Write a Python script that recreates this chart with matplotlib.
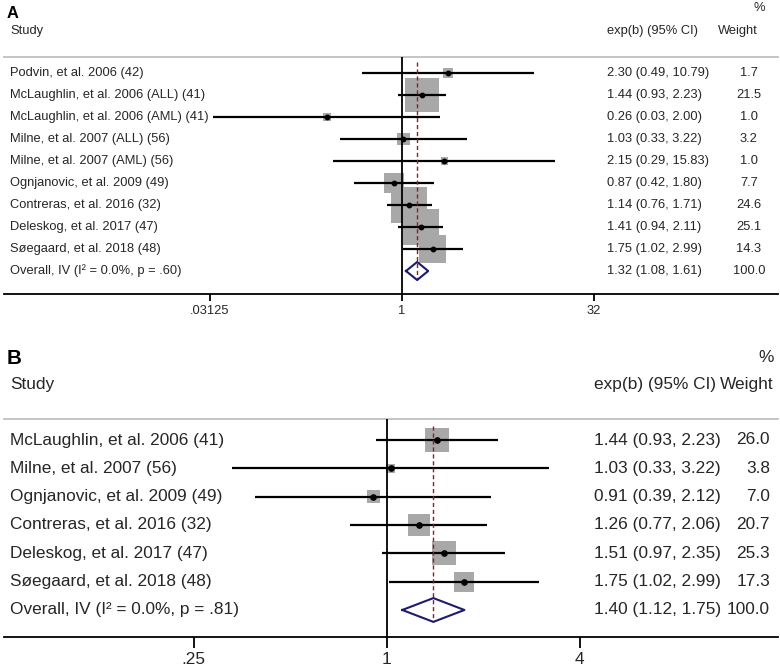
import numpy as np
import matplotlib.pyplot as plt

plt.rcParams['font.family'] = ['Liberation Sans', 'DejaVu Sans']

# ---- panel A data
studies_a = ["Podvin, et al. 2006 (42)", "McLaughlin, et al. 2006 (ALL) (41)",
             "McLaughlin, et al. 2006 (AML) (41)", "Milne, et al. 2007 (ALL) (56)",
             "Milne, et al. 2007 (AML) (56)", "Ognjanovic, et al. 2009 (49)",
             "Contreras, et al. 2016 (32)", "Deleskog, et al. 2017 (47)",
             "Søegaard, et al. 2018 (48)"]
est_a = [2.30, 1.44, 0.26, 1.03, 2.15, 0.87, 1.14, 1.41, 1.75]
lo_a = [0.49, 0.93, 0.033, 0.33, 0.29, 0.42, 0.76, 0.94, 1.02]
hi_a = [10.79, 2.23, 2.00, 3.22, 15.83, 1.80, 1.71, 2.11, 2.99]
wt_a = [1.7, 21.5, 1.0, 3.2, 1.0, 7.7, 24.6, 25.1, 14.3]
overall_a = [1.32, 1.08, 1.61]
overall_label_a = "Overall, IV (I² = 0.0%, p = .60)"
ticks_a = [0.03125, 1, 32]
ticklabels_a = [".03125", "1", "32"]

# ---- panel B data
studies_b = ["McLaughlin, et al. 2006 (41)", "Milne, et al. 2007 (56)",
             "Ognjanovic, et al. 2009 (49)", "Contreras, et al. 2016 (32)",
             "Deleskog, et al. 2017 (47)", "Søegaard, et al. 2018 (48)"]
est_b = [1.44, 1.03, 0.91, 1.26, 1.51, 1.75]
lo_b = [0.93, 0.33, 0.39, 0.77, 0.97, 1.02]
hi_b = [2.23, 3.22, 2.12, 2.06, 2.35, 2.99]
wt_b = [26.0, 3.8, 7.0, 20.7, 25.3, 17.3]
overall_b = [1.40, 1.12, 1.75]
overall_label_b = "Overall, IV (I² = 0.0%, p = .81)"
ticks_b = [0.25, 1, 4]
ticklabels_b = [".25", "1", "4"]

W, H = 780, 670
fig = plt.figure(figsize=(W / 100, H / 100), dpi=100)
TXT = '#262626'
AX_L, AX_R = 4, 778


def forest(top, bottom, one_px, px_unit, row0, row_sp, studies, est, lo, hi, wt,
           overall, overall_label, ticks, ticklabels, fs, sq_k, letter, hdr,
           ci_x, wt_x, wt_ha, tick_len, diamond_h, dot_ms):
    ax = fig.add_axes([AX_L / W, 1 - bottom / H, (AX_R - AX_L) / W, (bottom - top) / H])
    ax.set_xscale('log', base=2)
    ax.set_xlim(2 ** ((AX_L - one_px) / px_unit), 2 ** ((AX_R - one_px) / px_unit))
    n = len(studies)
    ax.set_ylim((bottom - row0) / row_sp, (top - row0) / row_sp)
    rows = np.arange(n)
    fx = lambda px: (px - AX_L) / (AX_R - AX_L)
    row_of = lambda px: (px - row0) / row_sp
    tr = ax.get_yaxis_transform()

    # squares, CIs, point estimates
    ax.scatter(est, rows, s=np.array(wt) * sq_k, marker='s', color='#a8a8a8',
               linewidths=0, zorder=2)
    ax.hlines(rows, lo, hi, color='black', lw=1.6, zorder=3)
    ax.plot(est, rows, 'o', color='black', ms=dot_ms, zorder=4)
    ax.axvline(1, color='black', lw=1.3, zorder=5)
    ov, ol, oh = overall
    ax.plot([ov, ov], [-0.5, n + diamond_h], color='#9b1b1b', lw=1.0,
            ls=(0, (3, 2)), zorder=5)
    ax.plot([ol, ov, oh, ov, ol], [n, n - diamond_h, n, n + diamond_h, n],
            color='#1c1c6e', lw=1.5, zorder=6)

    # row text
    labels = studies + [overall_label]
    ests = est + [ov]
    los = lo + [ol]
    his = hi + [oh]
    wts = wt + [100.0]
    for i in range(n + 1):
        ax.text(fx(10), i, labels[i], transform=tr, fontsize=fs, color=TXT,
                va='center', ha='left')
        ax.text(fx(ci_x), i, f"{ests[i]:.2f} ({los[i]:.2f}, {his[i]:.2f})",
                transform=tr, fontsize=fs, color=TXT, va='center', ha='left')
        ax.text(fx(wt_x), i, f"{wts[i]:.1f}", transform=tr, fontsize=fs,
                color=TXT, va='center', ha=wt_ha)

    # headers
    ax.text(fx(7), row_of(letter[1]), letter[0], transform=tr, fontsize=fs + 2.5,
            fontweight='bold', color='black', va='center', ha='left', clip_on=False)
    ax.text(fx(10), row_of(hdr['y']), "Study", transform=tr, fontsize=fs, color=TXT,
            va='center', ha='left', clip_on=False)
    ax.text(fx(ci_x), row_of(hdr['y']), "exp(b) (95% CI)", transform=tr, fontsize=fs,
            color=TXT, va='center', ha='left', clip_on=False)
    ax.text(fx(hdr['wx']), row_of(hdr['y']), "Weight", transform=tr, fontsize=fs,
            color=TXT, va='center', ha=hdr['wha'], clip_on=False)
    ax.text(fx(hdr['px']), row_of(hdr['py']), "%", transform=tr, fontsize=fs,
            color=TXT, va='center', ha='right', clip_on=False)

    # axes styling
    for s in ['left', 'right']:
        ax.spines[s].set_visible(False)
    ax.spines['top'].set_color('#c0c0c0')
    ax.spines['top'].set_linewidth(1.3)
    ax.spines['bottom'].set_linewidth(1.3)
    ax.set_yticks([])
    ax.set_xticks(ticks)
    ax.set_xticklabels(ticklabels)
    ax.xaxis.set_minor_locator(plt.NullLocator())
    ax.tick_params(axis='x', length=tick_len, width=1.3, labelsize=fs,
                   labelcolor=TXT, pad=3)
    return ax


forest(57, 294, 401.75, 38.45, 73, 22.0, studies_a, est_a, lo_a, hi_a, wt_a,
       overall_a, overall_label_a, ticks_a, ticklabels_a, 9.3, 26.9,
       ("A", 13), dict(y=31, wx=738, wha='center', px=765, py=8),
       607, 749, 'center', 5, 0.41, 3.2)

forest(419, 637, 386.5, 96.5, 440, 28.33, studies_b, est_b, lo_b, hi_b, wt_b,
       overall_b, overall_label_b, ticks_b, ticklabels_b, 12.4, 11.9,
       ("B", 359), dict(y=385, wx=774, wha='right', px=774, py=357),
       594, 770, 'right', 8, 0.42, 3.8)

fig.savefig('out.png', dpi=100)
